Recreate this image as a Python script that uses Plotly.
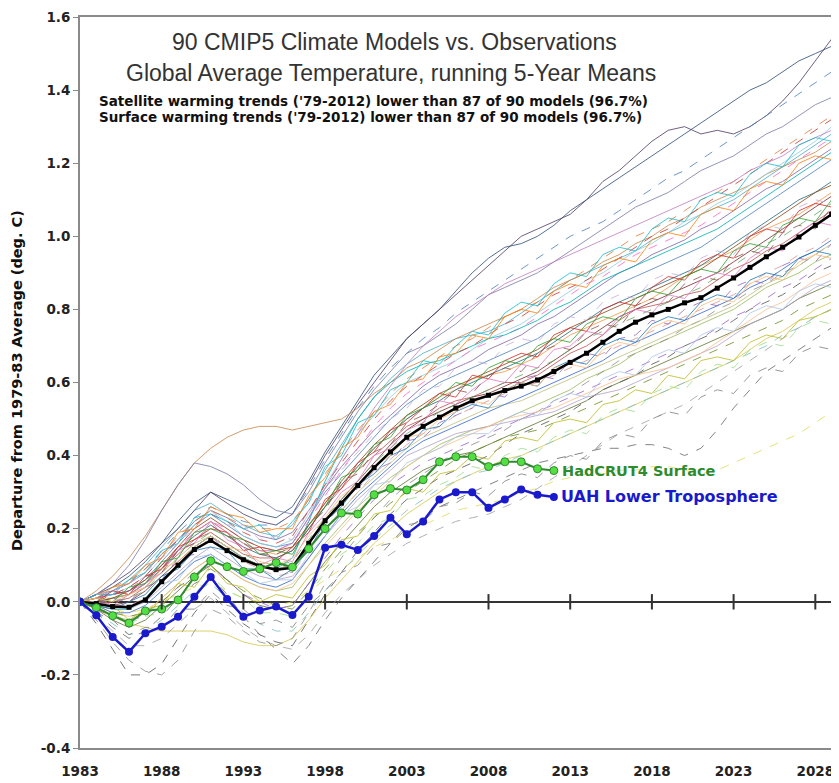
import plotly.graph_objects as go

years = list(range(1983, 2031))
obs_years = list(range(1983, 2013))
tick_years = [1983, 1988, 1993, 1998, 2003, 2008, 2013, 2018, 2023, 2028]
zero_tick_years = [1988, 1993, 1998, 2003, 2008, 2013, 2018, 2023, 2028]
y_ticks = [-0.4, -0.2, 0.0, 0.2, 0.4, 0.6, 0.8, 1.0, 1.2, 1.4, 1.6]

model_mean = [0.00, -0.005, -0.013, -0.015, 0.005, 0.055, 0.10, 0.143, 0.168, 0.14, 0.115, 0.098,
              0.088, 0.093, 0.16, 0.222, 0.27, 0.318, 0.367, 0.41, 0.45, 0.48, 0.505, 0.53,
              0.55, 0.565, 0.578, 0.59, 0.607, 0.63, 0.655, 0.68, 0.71, 0.74, 0.765, 0.785,
              0.80, 0.818, 0.832, 0.858, 0.886, 0.915, 0.944, 0.97, 0.998, 1.03, 1.06, 1.085]

uah = [0.00, -0.037, -0.096, -0.137, -0.086, -0.068, -0.041, 0.014, 0.068, 0.008, -0.041, -0.024,
       -0.013, -0.036, 0.014, 0.148, 0.156, 0.142, 0.18, 0.23, 0.185, 0.22, 0.28, 0.30,
       0.30, 0.257, 0.28, 0.307, 0.293, 0.287]

hadcrut4 = [0.00, -0.016, -0.038, -0.058, -0.025, -0.02, 0.005, 0.068, 0.112, 0.096, 0.083, 0.09,
            0.107, 0.095, 0.145, 0.20, 0.243, 0.24, 0.293, 0.31, 0.306, 0.334, 0.383, 0.397,
            0.397, 0.37, 0.383, 0.383, 0.364, 0.359]

m01 = [.00,.01,.02,.03,.06,.11,.16,.21,.24,.21,.18,.16, .15,.16,.23,.30,.35,.40,.45,.50,.54,.57,.60,.62, .64,.66,.68,.70,.72,.75,.78,.81,.84,.87,.89,.91, .93,.95,.97,1.00,1.03,1.06,1.09,1.12,1.15,1.18,1.21,1.24]
m02 = [.00,-.01,.00,.01,.04,.09,.13,.17,.19,.16,.13,.12, .12,.14,.20,.26,.31,.36,.40,.44,.48,.50,.53,.55, .56,.58,.60,.60,.62,.65,.68,.70,.73,.77,.80,.81, .82,.84,.85,.88,.91,.93,.96,.98,1.01,1.04,1.07,1.09]
m03 = [.00,-.02,-.04,-.05,-.03,.01,.05,.09,.12,.09,.06,.04, .03,.04,.10,.16,.21,.26,.30,.34,.37,.40,.43,.45, .47,.48,.50,.52,.54,.56,.58,.61,.63,.65,.68,.70, .72,.74,.76,.78,.80,.83,.86,.88,.90,.93,.95,.98]
m04 = [.00,.02,.03,.05,.08,.13,.17,.22,.25,.23,.20,.18, .17,.19,.25,.31,.37,.42,.47,.51,.55,.59,.62,.64, .66,.69,.71,.73,.76,.78,.81,.84,.87,.90,.92,.95, .97,.99,1.02,1.04,1.07,1.10,1.13,1.15,1.18,1.21,1.24,1.27]
m05 = [.00,.01,.03,.06,.10,.15,.20,.25,.27,.24,.21,.19, .18,.21,.28,.36,.43,.50,.56,.61,.65,.68,.70,.72, .73,.74,.76,.79,.82,.85,.88,.90,.92,.94,.96,.99, 1.01,1.03,1.06,1.08,1.10,1.13,1.16,1.19,1.22,1.25,1.28,1.31]
m06 = [.00,.00,.01,.02,.05,.10,.14,.19,.22,.19,.16,.14, .13,.15,.21,.27,.32,.37,.42,.46,.50,.53,.56,.58, .61,.62,.63,.65,.67,.70,.73,.75,.77,.79,.81,.83, .86,.89,.92,.94,.96,.99,1.02,1.04,1.06,1.09,1.12,1.14]
m07 = [.00,.02,.04,.07,.11,.16,.22,.27,.30,.28,.26,.24, .23,.26,.33,.41,.48,.55,.62,.67,.72,.76,.80,.85, .90,.94,.97,.98,1.00,1.03,1.07,1.10,1.13,1.16,1.19,1.22, 1.25,1.28,1.31,1.34,1.37,1.40,1.42,1.45,1.48,1.50,1.52,1.55]
m08 = [.00,-.01,-.01,.00,.03,.07,.11,.15,.18,.15,.12,.10, .09,.10,.16,.22,.28,.33,.38,.43,.47,.50,.52,.54, .56,.57,.59,.61,.63,.66,.69,.72,.75,.78,.80,.82, .84,.86,.88,.90,.93,.96,.99,1.02,1.05,1.08,1.11,1.14]
m09 = [.00,-.02,-.05,-.07,-.05,-.01,.03,.07,.10,.06,.02,-.01, -.02,-.01,.05,.11,.16,.21,.26,.30,.33,.36,.38,.40, .41,.43,.45,.47,.49,.51,.53,.55,.58,.60,.62,.64, .66,.68,.70,.72,.74,.76,.78,.80,.83,.85,.87,.90]
m10 = [.00,.02,.05,.08,.12,.16,.20,.25,.30,.27,.24,.22, .21,.24,.32,.40,.47,.54,.60,.66,.72,.76,.80,.84, .88,.92,.96,1.00,1.02,1.04,1.06,1.10,1.15,1.18,1.22,1.26, 1.29,1.30,1.28,1.29,1.28,1.30,1.33,1.37,1.42,1.48,1.54,1.58]
m11 = [.00,.03,.07,.12,.18,.25,.32,.38,.42,.45,.47,.48, .48,.47,.48,.49,.50,.53,.57,.60,.64,.66,.69,.72, .74,.76,.78,.80,.83,.86,.88,.90,.93,.95,.98,1.00, 1.03,1.05,1.08,1.10,1.12,1.14,1.17,1.19,1.21,1.23,1.26,1.28]
m12 = [.00,.02,.05,.10,.17,.25,.32,.38,.37,.35,.32,.28, .25,.24,.30,.38,.45,.52,.58,.63,.68,.70,.73,.76, .80,.84,.86,.88,.90,.93,.96,.99,1.02,1.05,1.08,1.10, 1.12,1.15,1.18,1.20,1.22,1.25,1.28,1.30,1.33,1.36,1.38,1.40]
m13 = [.00,-.06,-.13,-.20,-.20,-.17,-.10,-.03,.02,-.02,-.06,-.09, -.11,-.12,-.05,.02,.08,.14,.19,.24,.28,.31,.34,.36, .38,.40,.43,.46,.48,.50,.52,.55,.58,.60,.62,.65, .67,.70,.72,.74,.77,.80,.82,.84,.87,.90,.92,.95]
m14 = [.00,-.03,-.07,-.10,-.08,-.04,.01,.05,.07,.02,-.04,-.09, -.13,-.17,-.12,-.05,.01,.06,.11,.16,.20,.23,.26,.28, .30,.32,.34,.36,.38,.39,.40,.41,.42,.42,.43,.43, .42,.40,.42,.47,.53,.58,.63,.66,.69,.72,.75,.78]
m15 = [.00,-.01,-.02,-.03,-.02,.00,.02,.04,.05,.03,.01,.00, -.01,.00,.03,.06,.09,.12,.15,.17,.19,.21,.23,.25, .26,.27,.28,.30,.31,.33,.34,.35,.35,.36,.36,.37, .37,.36,.35,.36,.38,.40,.42,.44,.46,.49,.52,.55]
m16 = [.00,-.02,-.04,-.06,-.07,-.08,-.08,-.08,-.08,-.09,-.11,-.12, -.12,-.10,-.05,.01,.06,.11,.16,.20,.24,.27,.30,.33, .35,.37,.39,.40,.42,.44,.46,.48,.50,.52,.54,.56, .58,.60,.62,.64,.66,.69,.72,.74,.77,.80,.82,.85]
m17 = [.00,-.05,-.11,-.16,-.19,-.20,-.16,-.08,-.02,-.04,-.08,-.11, -.12,-.10,-.03,.05,.12,.18,.23,.28,.32,.35,.38,.41, .43,.45,.47,.50,.52,.55,.57,.60,.63,.66,.68,.70, .72,.75,.77,.80,.82,.85,.87,.90,.92,.95,.98,1.00]
m18 = [.00,.01,.02,.04,.07,.12,.17,.21,.25,.22,.18,.16, .15,.17,.24,.32,.39,.46,.51,.56,.60,.62,.64,.66, .69,.72,.74,.76,.79,.82,.85,.88,.90,.93,.96,.98, 1.01,1.04,1.06,1.09,1.11,1.14,1.17,1.20,1.23,1.26,1.30,1.33]
m19 = [.00,.00,-.01,-.01,.01,.05,.10,.14,.17,.14,.11,.09, .07,.08,.14,.20,.25,.30,.35,.39,.43,.46,.48,.51, .53,.55,.57,.59,.60,.62,.64,.66,.68,.70,.72,.74, .76,.78,.80,.82,.84,.87,.90,.92,.95,.97,1.00,1.02]
m20 = [.00,-.01,-.02,-.02,.00,.04,.08,.12,.15,.12,.09,.07, .06,.07,.12,.18,.23,.28,.32,.36,.40,.42,.44,.46, .47,.48,.49,.50,.51,.52,.54,.56,.57,.58,.60,.62, .64,.66,.68,.70,.73,.76,.78,.80,.83,.86,.88,.91]
m21 = [.00,-.01,-.03,-.04,-.03,.01,.05,.09,.12,.09,.06,.04, .03,.05,.10,.15,.20,.25,.29,.33,.37,.40,.42,.44, .46,.48,.50,.51,.52,.53,.55,.57,.59,.61,.62,.63, .64,.66,.68,.71,.74,.77,.80,.82,.85,.88,.90,.93]
m22 = [.00,.00,.01,.02,.05,.09,.14,.18,.21,.18,.15,.13, .12,.14,.20,.26,.32,.37,.42,.46,.50,.53,.55,.58, .60,.62,.64,.66,.68,.71,.74,.77,.80,.82,.84,.86, .88,.90,.92,.95,.98,1.01,1.04,1.07,1.10,1.12,1.15,1.18]
m23 = [.00,.01,.02,.03,.06,.10,.15,.19,.22,.20,.17,.15, .14,.16,.22,.29,.36,.42,.48,.53,.57,.60,.63,.66, .69,.71,.73,.75,.78,.81,.84,.87,.89,.92,.95,.97, .99,1.01,1.03,1.06,1.09,1.12,1.15,1.18,1.21,1.24,1.27,1.30]
m24 = [.00,.01,.03,.05,.09,.14,.19,.23,.26,.24,.22,.21, .21,.24,.31,.39,.46,.53,.59,.64,.68,.72,.75,.79, .82,.85,.88,.91,.94,.97,1.00,1.02,1.04,1.07,1.10,1.13, 1.16,1.18,1.21,1.24,1.27,1.30,1.33,1.36,1.39,1.42,1.45,1.48]
m25 = [.00,-.01,-.02,-.02,.01,.06,.10,.15,.18,.15,.12,.10, .09,.12,.22,.33,.42,.50,.56,.60,.63,.65,.66,.68, .70,.72,.73,.75,.77,.80,.82,.85,.88,.90,.92,.94, .96,.98,1.00,1.02,1.05,1.08,1.11,1.14,1.17,1.20,1.23,1.26]
m26 = [.00,-.02,-.04,-.05,-.04,.00,.04,.08,.10,.06,.02,.00, -.02,-.01,.05,.12,.18,.23,.28,.32,.35,.38,.40,.42, .44,.46,.48,.50,.52,.54,.56,.58,.60,.62,.64,.66, .68,.70,.72,.75,.78,.80,.83,.86,.88,.91,.94,.97]
m27 = [.00,.00,.00,.01,.03,.08,.12,.16,.19,.16,.13,.11, .10,.11,.17,.23,.28,.33,.38,.42,.46,.49,.52,.54, .56,.58,.60,.62,.64,.66,.69,.72,.74,.76,.78,.80, .82,.84,.86,.89,.92,.95,.98,1.00,1.03,1.06,1.09,1.12]
m28 = [.00,.01,.02,.04,.07,.12,.17,.21,.24,.22,.19,.17, .16,.18,.25,.32,.38,.44,.50,.55,.59,.62,.65,.68, .70,.73,.76,.78,.81,.84,.86,.88,.91,.94,.97,1.00, 1.02,1.05,1.08,1.11,1.14,1.17,1.20,1.23,1.26,1.29,1.32,1.35]
m29 = [.00,-.04,-.08,-.12,-.12,-.10,-.06,-.02,.01,-.03,-.07,-.10, -.12,-.13,-.09,-.03,.02,.06,.10,.13,.16,.18,.20,.22, .23,.24,.26,.28,.31,.34,.37,.40,.43,.46,.48,.50, .52,.54,.57,.60,.63,.66,.69,.72,.75,.78,.80,.83]
m30 = [.00,.01,.01,.02,.04,.08,.12,.16,.18,.15,.12,.10, .09,.10,.15,.20,.25,.30,.34,.38,.42,.45,.47,.49, .51,.53,.54,.55,.57,.59,.61,.63,.65,.67,.69,.71, .73,.75,.77,.79,.81,.84,.87,.89,.92,.95,.98,1.01]
m31 = [.00,.02,.04,.06,.09,.13,.18,.22,.25,.23,.21,.20, .20,.22,.28,.35,.41,.47,.52,.57,.61,.64,.67,.70, .72,.75,.78,.80,.82,.85,.88,.91,.94,.97,1.00,1.02, 1.04,1.07,1.10,1.12,1.15,1.18,1.21,1.24,1.27,1.30,1.33,1.36]
m32 = [.00,-.01,-.03,-.03,-.01,.03,.07,.11,.13,.10,.07,.05, .04,.06,.12,.18,.24,.29,.33,.37,.41,.44,.46,.48, .50,.52,.54,.56,.58,.60,.62,.64,.66,.69,.71,.73, .75,.77,.79,.81,.83,.86,.88,.91,.94,.96,.99,1.02]
m33 = [.00,-.02,-.03,-.04,-.03,.00,.04,.07,.09,.06,.03,.01, -.01,-.02,.03,.09,.14,.19,.23,.27,.30,.33,.36,.39, .41,.43,.45,.46,.47,.49,.51,.53,.55,.57,.59,.61, .63,.65,.67,.69,.71,.73,.75,.77,.80,.82,.84,.87]
m34 = [.00,.01,.02,.03,.05,.10,.14,.19,.22,.19,.16,.14, .14,.16,.23,.31,.39,.46,.53,.59,.65,.70,.74,.78, .81,.84,.87,.89,.91,.93,.95,.97,.99,1.01,1.03,1.05, 1.07,1.09,1.11,1.13,1.15,1.18,1.20,1.22,1.25,1.27,1.29,1.31]
m35 = [.00,-.03,-.06,-.09,-.08,-.05,-.01,.03,.05,.01,-.03,-.06, -.08,-.08,-.03,.03,.08,.13,.17,.21,.25,.28,.31,.33, .35,.36,.38,.40,.42,.44,.46,.48,.50,.52,.54,.56, .58,.60,.62,.64,.66,.68,.70,.73,.75,.78,.80,.82]
m36 = [.00,.00,.01,.03,.06,.10,.15,.20,.23,.20,.17,.15, .14,.15,.21,.27,.33,.38,.43,.47,.51,.54,.57,.59, .61,.63,.65,.67,.69,.72,.75,.77,.79,.81,.83,.85, .87,.89,.91,.94,.97,1.00,1.03,1.06,1.09,1.12,1.14,1.17]
m37 = [.00,.01,-.01,.02,.05,.08,.14,.16,.22,.17,.15,.10, .12,.11,.19,.24,.30,.33,.40,.42,.47,.49,.55,.54, .58,.61,.60,.65,.64,.69,.70,.74,.73,.78,.80,.79, .84,.83,.88,.90,.89,.94,.97,.96,1.01,1.04,1.03,1.08]
m38 = [.00,.02,.02,.06,.08,.14,.16,.23,.24,.22,.20,.21, .17,.22,.27,.37,.40,.49,.51,.58,.60,.66,.65,.70, .74,.73,.79,.82,.81,.87,.90,.89,.95,.97,.96,1.02, 1.05,1.04,1.10,1.12,1.11,1.17,1.20,1.19,1.25,1.27,1.26,1.32]
m39 = [.00,-.02,-.01,-.05,-.02,-.01,.05,.04,.10,.05,.04,.00, .02,.01,.07,.10,.17,.18,.24,.25,.31,.30,.35,.36, .40,.39,.44,.45,.44,.49,.50,.49,.54,.55,.58,.57, .62,.61,.66,.67,.66,.71,.73,.72,.77,.78,.80,.83]
m40 = [.00,.00,.03,.02,.07,.09,.15,.17,.20,.19,.14,.15, .11,.15,.19,.28,.31,.38,.41,.47,.49,.53,.57,.56, .62,.61,.66,.68,.67,.73,.75,.74,.80,.82,.81,.86, .89,.88,.93,.95,.94,1.00,1.02,1.01,1.07,1.09,1.08,1.13]
m41 = [.00,-.01,.01,.00,.04,.06,.12,.13,.18,.14,.12,.08, .09,.08,.16,.21,.27,.31,.36,.38,.44,.45,.49,.51, .53,.57,.56,.61,.62,.61,.66,.68,.67,.72,.73,.77, .76,.80,.82,.81,.86,.88,.87,.92,.94,.93,.98,1.00]
m42 = [.00,.01,.00,.04,.05,.11,.12,.19,.20,.18,.17,.13, .14,.13,.21,.26,.34,.36,.43,.45,.51,.53,.56,.60, .59,.64,.66,.65,.70,.72,.71,.76,.78,.77,.83,.85, .84,.89,.91,.90,.96,.98,.97,1.03,1.05,1.04,1.10,1.12]
m43 = [.00,-.01,-.02,.00,.02,.07,.09,.14,.15,.14,.09,.09, .06,.09,.14,.22,.26,.32,.35,.40,.42,.47,.48,.52, .54,.53,.58,.60,.59,.64,.66,.65,.70,.72,.71,.76, .78,.77,.82,.84,.83,.88,.90,.89,.94,.96,.95,1.00]
m44 = [.00,.01,.04,.05,.10,.12,.19,.20,.26,.24,.23,.19, .20,.20,.29,.34,.42,.45,.52,.54,.60,.61,.67,.68, .73,.72,.78,.80,.79,.85,.87,.86,.92,.94,.93,.99, 1.01,1.00,1.06,1.08,1.07,1.13,1.15,1.14,1.20,1.22,1.21,1.27]
m45 = [.00,-.03,-.05,-.09,-.07,-.07,-.02,-.02,.03,-.01,-.02,-.06, -.05,-.07,-.01,.03,.08,.10,.15,.16,.21,.22,.26,.27, .30,.29,.33,.35,.34,.38,.40,.39,.44,.46,.45,.50, .52,.51,.56,.58,.57,.62,.64,.63,.68,.70,.69,.74]
m46 = [.00,.00,.02,.03,.07,.08,.14,.16,.21,.18,.16,.13, .13,.15,.21,.25,.33,.35,.41,.43,.49,.51,.54,.58, .57,.62,.64,.63,.68,.70,.69,.74,.76,.75,.81,.83, .82,.87,.89,.88,.94,.96,.95,1.01,1.03,1.02,1.08,1.10]
m47 = [.00,.00,-.02,-.01,.00,.05,.06,.12,.13,.10,.08,.05, .06,.06,.13,.18,.24,.26,.32,.33,.38,.40,.42,.45, .46,.46,.50,.52,.51,.55,.57,.56,.61,.63,.62,.67, .69,.68,.73,.75,.74,.79,.81,.80,.85,.87,.86,.91]
m48 = [.00,-.02,-.03,-.06,-.04,-.03,.01,.02,.07,.03,.01,-.03, -.03,-.04,.02,.08,.13,.16,.21,.23,.28,.29,.32,.34, .37,.36,.40,.42,.41,.45,.47,.46,.51,.53,.52,.57, .59,.58,.63,.65,.64,.69,.71,.70,.75,.77,.76,.81]
m49 = [.00,.02,.03,.05,.08,.12,.16,.20,.25,.21,.21,.17, .18,.17,.24,.31,.36,.41,.46,.50,.53,.58,.59,.64, .66,.65,.70,.72,.71,.76,.78,.77,.82,.84,.83,.88, .90,.89,.94,.96,.95,1.01,1.03,1.02,1.08,1.10,1.09,1.15]
m50 = [.00,.01,.00,.02,.04,.09,.11,.15,.18,.15,.14,.11, .10,.12,.18,.23,.29,.32,.37,.40,.45,.46,.50,.52, .55,.54,.58,.60,.59,.64,.65,.64,.69,.71,.70,.75, .77,.76,.81,.83,.82,.87,.89,.88,.93,.95,.94,.99]

models = [m01, m02, m03, m04, m05, m06, m07, m08, m09, m10, m11, m12, m13, m14, m15, m16, m17, m18,
          m19, m20, m21, m22, m23, m24, m25, m26, m27, m28, m29, m30, m31, m32, m33, m34, m35, m36,
          m37, m38, m39, m40, m41, m42, m43, m44, m45, m46, m47, m48, m49, m50]
model_colors = ["#4f81bd", "#c0504d", "#9bbb59", "#8064a2", "#4bacc6", "#f79646", "#2c4d75", "#772c2a",
                "#5f7530", "#4d3b62", "#c9864a", "#7a7aa8", "#555555", "#666666", "#e0dc5a", "#d4c84a",
                "#8c8c8c", "#93cddd", "#d99694", "#b3a2c7", "#fac090", "#276a7c", "#ff66cc", "#4a7ebb",
                "#00b0b0", "#9966cc", "#66aa66", "#cc3333", "#a0a0a0", "#c0c080", "#e07b39", "#3366cc",
                "#6b8e23", "#bf7fbf", "#7fbfbf", "#8b4513",
                "#e377c2", "#17becf", "#bcbd22", "#d62728", "#9467bd", "#2ca02c", "#1f77b4",
                "#ff7f0e", "#7f7f7f", "#8c564b", "#aec7e8", "#98df8a", "#c5b0d5", "#ffbb78"]
model_dash = ["solid", "solid", "solid", "solid", "solid", "solid", "solid", "solid",
              "solid", "solid", "solid", "solid", "dash", "dash", "dash", "solid",
              "dash", "solid", "dash", "solid", "solid", "solid", "dash", "dash",
              "solid", "dash", "dash", "dash", "dash", "solid", "dash", "solid",
              "dash", "solid", "dash", "solid",
              "solid", "solid", "solid", "solid", "dash", "solid", "solid",
              "solid", "dash", "dash", "solid", "dash", "dash", "solid"]

fig = go.Figure()
for vals, col, dsh in zip(models, model_colors, model_dash):
    fig.add_trace(go.Scatter(x=years, y=vals, mode="lines",
                             line=dict(color=col, width=1, dash=dsh), opacity=0.8,
                             hoverinfo="skip", showlegend=False))

fig.add_trace(go.Scatter(x=years, y=model_mean, mode="lines+markers",
                         line=dict(color="black", width=2.5),
                         marker=dict(symbol="square", size=5, color="black"),
                         showlegend=False))
fig.add_trace(go.Scatter(x=obs_years, y=hadcrut4, mode="lines+markers",
                         line=dict(color="#2e8b2e", width=2),
                         marker=dict(symbol="circle", size=8, color="#55dd44",
                                     line=dict(color="#2e8b2e", width=1)),
                         showlegend=False))
fig.add_trace(go.Scatter(x=obs_years, y=uah, mode="lines+markers",
                         line=dict(color="#1a1acc", width=2.5),
                         marker=dict(symbol="circle", size=8, color="#1a1acc"),
                         showlegend=False))
fig.add_trace(go.Scatter(x=zero_tick_years, y=[0] * len(zero_tick_years), mode="markers",
                         marker=dict(symbol="line-ns-open", size=11, color="#333333",
                                     line=dict(color="#333333", width=2)),
                         hoverinfo="skip", showlegend=False))

fig.add_annotation(x=obs_years[-1], y=hadcrut4[-1], text="<b>HadCRUT4 Surface</b>",
                   showarrow=False, xanchor="left", yanchor="middle", xshift=6,
                   font=dict(family="DejaVu Sans", size=14.5, color="#2e8b2e"))
fig.add_annotation(x=obs_years[-1], y=uah[-1], text="<b>UAH Lower Troposphere</b>",
                   showarrow=False, xanchor="left", yanchor="middle", xshift=5,
                   font=dict(family="DejaVu Sans", size=16, color="#1a1acc"))

title_font = dict(family="Liberation Sans", size=23, color="#333333")
fig.add_annotation(xref="paper", yref="paper", x=0.415, y=0.966,
                   text="90 CMIP5 Climate Models vs. Observations",
                   showarrow=False, xanchor="center", yanchor="middle", font=title_font)
fig.add_annotation(xref="paper", yref="paper", x=0.41, y=0.923,
                   text="Global Average Temperature, running 5-Year Means",
                   showarrow=False, xanchor="center", yanchor="middle", font=title_font)
sub_font = dict(family="DejaVu Sans", size=13.5, color="#111111")
fig.add_annotation(xref="paper", yref="paper", x=0.0224, y=0.885,
                   text="<b>Satellite warming trends ('79-2012) lower than 87 of 90 models (96.7%)</b>",
                   showarrow=False, xanchor="left", yanchor="middle", font=sub_font)
fig.add_annotation(xref="paper", yref="paper", x=0.0224, y=0.863,
                   text="<b>Surface warming trends ('79-2012) lower than 87 of 90 models (96.7%)</b>",
                   showarrow=False, xanchor="left", yanchor="middle", font=sub_font)
fig.add_annotation(xref="paper", yref="paper", x=-0.082, y=0.503, textangle=-90,
                   text="<b>Departure from 1979-83 Average (deg. C)</b>",
                   showarrow=False, xanchor="center", yanchor="middle",
                   font=dict(family="DejaVu Sans", size=14.5, color="#111111"))

tick_font = dict(family="DejaVu Sans", size=13.5, color="#222222")
# the page adds an 8px body margin, so the figure is drawn 8px smaller and shifted
fig.update_layout(
    width=831, height=775,
    margin=dict(l=72, r=0, t=9, b=35, autoexpand=False),
    paper_bgcolor="white", plot_bgcolor="white",
    showlegend=False,
    xaxis=dict(range=[1983, 2029.45], tickvals=tick_years,
               ticktext=[f"<b>{y}</b>" for y in tick_years],
               showgrid=False, zeroline=False, ticks="", ticklabelstandoff=10,
               showline=True, linecolor="#8a8a8a", linewidth=2, mirror=True,
               tickfont=tick_font, automargin=False),
    yaxis=dict(range=[-0.4, 1.6], tickvals=y_ticks,
               ticktext=[f"<b>{v:.1f}</b>" for v in y_ticks],
               showgrid=False, zeroline=True, zerolinecolor="#333333", zerolinewidth=2,
               ticks="outside", ticklen=5, tickcolor="#8a8a8a", tickwidth=1,
               showline=True, linecolor="#8a8a8a", linewidth=2,
               tickfont=tick_font, automargin=False),
)

fig.write_html("out.html")
